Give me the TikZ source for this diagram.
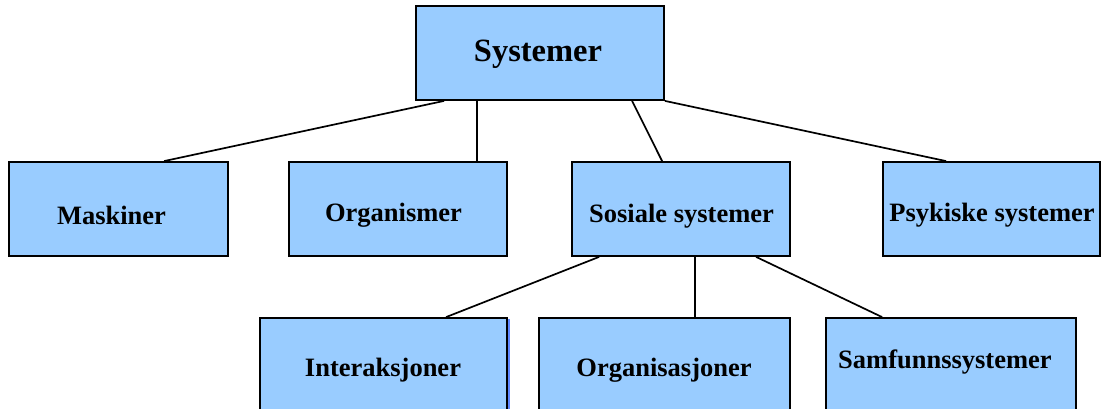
\documentclass[tikz,border=0pt]{standalone}
\usepackage{fontspec}
\setmainfont{Liberation Serif}
\begin{document}
\begin{tikzpicture}[x=1pt,y=-1pt,
  box/.style={draw=black,line width=1.8pt,fill=boxblue,inner sep=0pt,anchor=center,minimum height=94pt},
  conn/.style={draw=black,line width=1.7pt},
  lbl/.style={font=\fontsize{26.5}{30}\selectfont\bfseries,inner sep=0pt,anchor=base}]
\definecolor{boxblue}{HTML}{99CCFF}
\definecolor{edgeblue}{HTML}{5F86FF}
\useasboundingbox (0,0) rectangle (1101,409);
\clip (0,0) rectangle (1101,409);
% boxes
\node[box,minimum width=248pt] (sys) at (540,53) {};
\node[box,minimum width=219pt] (mask) at (118.5,209) {};
\node[box,minimum width=218pt] (org) at (398,209) {};
\node[box,minimum width=218pt] (sos) at (681,209) {};
\node[box,minimum width=217pt] (psy) at (991.5,209) {};
\fill[edgeblue] (507,319) rectangle (510,409);
\node[box,minimum width=247pt] (inter) at (383.5,365) {};
\node[box,minimum width=251pt] (orgs) at (664.5,365) {};
\node[box,minimum width=250pt] (samf) at (951,365) {};
% texts
\node[lbl,font=\fontsize{32.5}{36}\selectfont\bfseries] (syst) at (538,62) {Systemer};
\node[lbl] (maskt) at (111.5,224) {Maskiner};
\node[lbl] (orgt) at (393.5,222) {Organismer};
\node[lbl] (sost) at (681.5,222.5) {Sosiale systemer};
\node[lbl] (psyt) at (992,222) {Psykiske systemer};
\node[lbl] (intert) at (383,376) {Interaksjoner};
\node[lbl] (orgst) at (664,376) {Organisasjoner};
\node[lbl,anchor=base west] (samft) at (838,368) {Samfunnssystemer};
% connectors
\draw[conn] ([xshift=29pt]sys.south west) -- ([xshift=156pt]mask.north west);
\draw[conn] ([xshift=62pt]sys.south west) -- ([xshift=189pt]org.north west);
\draw[conn] ([xshift=217pt]sys.south west) -- ([xshift=91pt]sos.north west);
\draw[conn] (sys.south east) -- ([xshift=64pt]psy.north west);
\draw[conn] ([xshift=28pt]sos.south west) -- ([xshift=187pt]inter.north west);
\draw[conn] ([xshift=124pt]sos.south west) -- ([xshift=157pt]orgs.north west);
\draw[conn] ([xshift=185pt]sos.south west) -- ([xshift=57pt]samf.north west);
\end{tikzpicture}
\end{document}
